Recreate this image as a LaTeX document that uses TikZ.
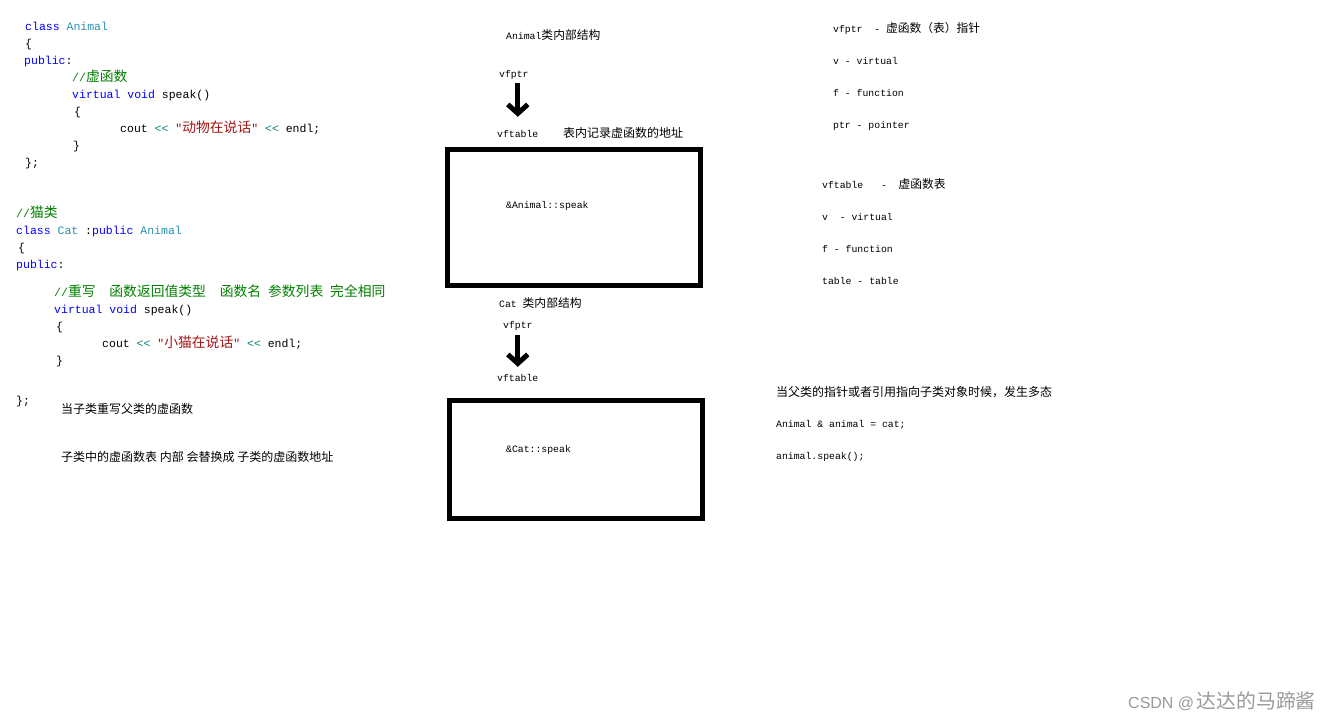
\documentclass[tikz,border=0pt]{standalone}
\usepackage{fontspec}
\setmonofont{Liberation Mono}
\newfontfamily\cjk[Scale=1.2]{Noto Sans CJK SC}
\newfontfamily\wmfont{Liberation Sans}
\usetikzlibrary{arrows.meta}
\definecolor{kwblue}{HTML}{0000FF}
\definecolor{typeteal}{HTML}{2B91AF}
\definecolor{cmtgreen}{HTML}{008000}
\definecolor{strred}{HTML}{A31515}
\definecolor{opteal}{HTML}{008080}
\definecolor{wmgray}{HTML}{9A9A9A}
\newcommand{\zh}[1]{{\cjk #1}}
\newcommand{\kw}[1]{\textcolor{kwblue}{#1}}
\newcommand{\tyname}[1]{\textcolor{typeteal}{#1}}
\newcommand{\cmt}[1]{\textcolor{cmtgreen}{#1}}
\newcommand{\strlit}[1]{\textcolor{strred}{#1}}
\newcommand{\opr}[1]{\textcolor{opteal}{#1}}

\begin{document}
\begin{tikzpicture}[x=1pt, y=-1pt,
    codeline/.style={anchor=base west, inner sep=0pt, font=\fontsize{11.5}{13}\ttfamily},
    smalltext/.style={anchor=base west, inner sep=0pt, font=\fontsize{9.8}{12}\ttfamily, text height=7pt, text depth=2pt},
    notetext/.style={anchor=base west, inner sep=0pt, font=\fontsize{10}{12}\cjk},
    tablebox/.style={draw, line width=5pt, inner sep=0pt, minimum width=253pt},
    fatarrow/.style={line width=5pt, -{Straight Barb[length=9pt, width=20pt]}},
    watermark/.style={anchor=base west, inner sep=0pt, text=wmgray, font=\fontsize{16}{18}\wmfont}]
  \path[use as bounding box, fill=white] (0,0) rectangle (1335,721);

  \node[codeline] (aclass) at (25,30) {\kw{class} \tyname{Animal}};
  \node[codeline] (aopen) at (25,47) {\{};
  \node[codeline] (apublic) at (24,64) {\kw{public}:};
  \node[codeline] (acomment) at (72,81) {\cmt{//\zh{虚函数}}};
  \node[codeline] (avirtual) at (72,98) {\kw{virtual void} speak()};
  \node[codeline] (abodyopen) at (74,115) {\{};
  \node[codeline] (acout) at (120,132) {cout \opr{<<} \strlit{"\zh{动物在说话}"} \opr{<<} endl;};
  \node[codeline] (abodyclose) at (73,149) {\}};
  \node[codeline] (aclose) at (25,166) {\};};

  \node[codeline] (ccomment) at (16,217) {\cmt{//\zh{猫类}}};
  \node[codeline] (cclass) at (16,234) {\kw{class} \tyname{Cat} :\kw{public} \tyname{Animal}};
  \node[codeline] (copen) at (18,251) {\{};
  \node[codeline] (cpublic) at (16,268) {\kw{public}:};
  \node[codeline] (coverride) at (54,296) {\cmt{//\zh{重写}\ \ \zh{函数返回值类型}\ \ \zh{函数名}\ \zh{参数列表}\ \zh{完全相同}}};
  \node[codeline] (cvirtual) at (54,313) {\kw{virtual void} speak()};
  \node[codeline] (cbodyopen) at (56,330) {\{};
  \node[codeline] (ccout) at (102,347) {cout \opr{<<} \strlit{"\zh{小猫在说话}"} \opr{<<} endl;};
  \node[codeline] (cbodyclose) at (56,364) {\}};
  \node[codeline] (cclose) at (16,404) {\};};
  \node[notetext] (crewrite) at (61,413) {当子类重写父类的虚函数};
  \node[notetext] (creplace) at (61,461) {子类中的虚函数表 内部 会替换成 子类的虚函数地址};

  \node[smalltext] (atitle) at (506,39) {Animal\zh{类内部结构}};
  \node[smalltext] (avfptr) at (499,77) {vfptr};
  \node[smalltext] (avftable) at (497,137) {vftable};
  \node[notetext] (anote) at (563,137) {表内记录虚函数的地址};
  \node[tablebox, minimum height=136pt] (abox) at (574,217.5) {};
  \node[smalltext] (aentry) at (506,208) {\&Animal::speak};
  \draw[fatarrow, shorten <=4pt, shorten >=13pt] (avftable.north |- avfptr.south) -- (avftable.north);

  \node[smalltext] (ctitle) at (499,307) {Cat \zh{类内部结构}};
  \node[smalltext] (cvfptr) at (503,328) {vfptr};
  \node[smalltext] (cvftable) at (497,381) {vftable};
  \node[tablebox, minimum height=118pt] (cbox) at (576,459.5) {};
  \node[smalltext] (centry) at (506,452) {\&Cat::speak};
  \draw[fatarrow, shorten <=5pt, shorten >=7pt] (cvftable.north |- cvfptr.south) -- (cvftable.north);

  \node[smalltext] (rvfptr) at (833,32) {vfptr\ \ - \zh{虚函数（表）指针}};
  \node[smalltext] (rv) at (833,64) {v - virtual};
  \node[smalltext] (rf) at (833,96) {f - function};
  \node[smalltext] (rptr) at (833,128) {ptr - pointer};
  \node[smalltext] (rvftable) at (822,188) {vftable\ \ \ -\ \ \zh{虚函数表}};
  \node[smalltext] (rvtwo) at (822,220) {v\ \ - virtual};
  \node[smalltext] (rftwo) at (822,252) {f - function};
  \node[smalltext] (rtable) at (822,284) {table - table};
  \node[notetext] (rpoly) at (776,396) {当父类的指针或者引用指向子类对象时候，发生多态};
  \node[smalltext] (rref) at (776,427) {Animal \& animal = cat;};
  \node[smalltext] (rcall) at (776,459) {animal.speak();};

  \node[watermark] (wm) at (1128,708) {CSDN @\,{\fontsize{16.5}{20}\cjk 达达的马蹄酱}};
\end{tikzpicture}
\end{document}
